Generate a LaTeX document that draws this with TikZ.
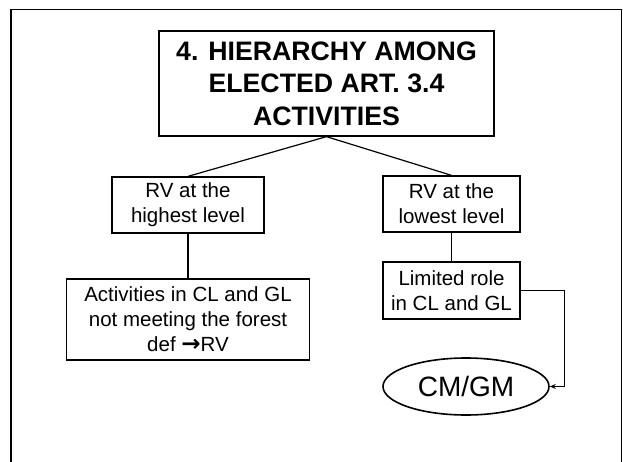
\documentclass[tikz,border=0pt]{standalone}
\usepackage{fontspec}
\setmainfont{Liberation Sans}
\newfontfamily\arrowfont{DejaVu Sans}
\usetikzlibrary{arrows.meta,shapes.geometric}
\begin{document}
\begin{tikzpicture}[x=1pt,y=-1pt,
  boxnode/.style={draw,line width=1.3pt,inner sep=0pt,align=center,
    font=\fontsize{20.5}{25}\selectfont},
  conn/.style={line width=1.2pt}]
\useasboundingbox (0,0) rectangle (623,462);
\clip (0,0) rectangle (623,462);
\draw[line width=1.6pt] (11,470) -- (11,9.5) -- (621.5,9.5) -- (621.5,470);
\node[boxnode,minimum width=335pt,minimum height=105pt,
  font=\fontsize{26.7}{32.5}\selectfont\bfseries] (title) at (326.5,83.5)
  {4. HIERARCHY AMONG\\ELECTED ART. 3.4\\ACTIVITIES};
\node[boxnode,minimum width=152pt,minimum height=56pt] (lb1) at (188,205)
  {RV at the\\highest level};
\node[boxnode,minimum width=137pt,minimum height=56pt] (rb1) at (451.5,204)
  {RV at the\\lowest level};
\node[boxnode,minimum width=242.5pt,minimum height=81pt] (lb2) at (188,319.5)
  {Activities in CL and GL\\not meeting the forest\\def {\arrowfont\bfseries\fontsize{23}{25}\selectfont →}RV};
\node[boxnode,minimum width=137pt,minimum height=57pt] (rb2) at (451.5,290.5)
  {Limited role\\in CL and GL};
\node[ellipse,draw,line width=1.6pt,inner sep=0pt,minimum width=166pt,minimum height=57pt,
  font=\fontsize{28}{30}\selectfont] (ell) at (466,386.5) {CM/GM};
\draw[conn] (title.south) -- (lb1.north);
\draw[conn] (title.south) -- (rb1.north);
\draw[conn] (lb1.south) -- (lb2.north);
\draw[conn] (rb1.south) -- (rb2.north);
\draw[conn,-{Stealth[length=6pt,width=5pt]}] (rb2.east) -- ++(44,0) |- (ell.east);
\end{tikzpicture}
\end{document}
